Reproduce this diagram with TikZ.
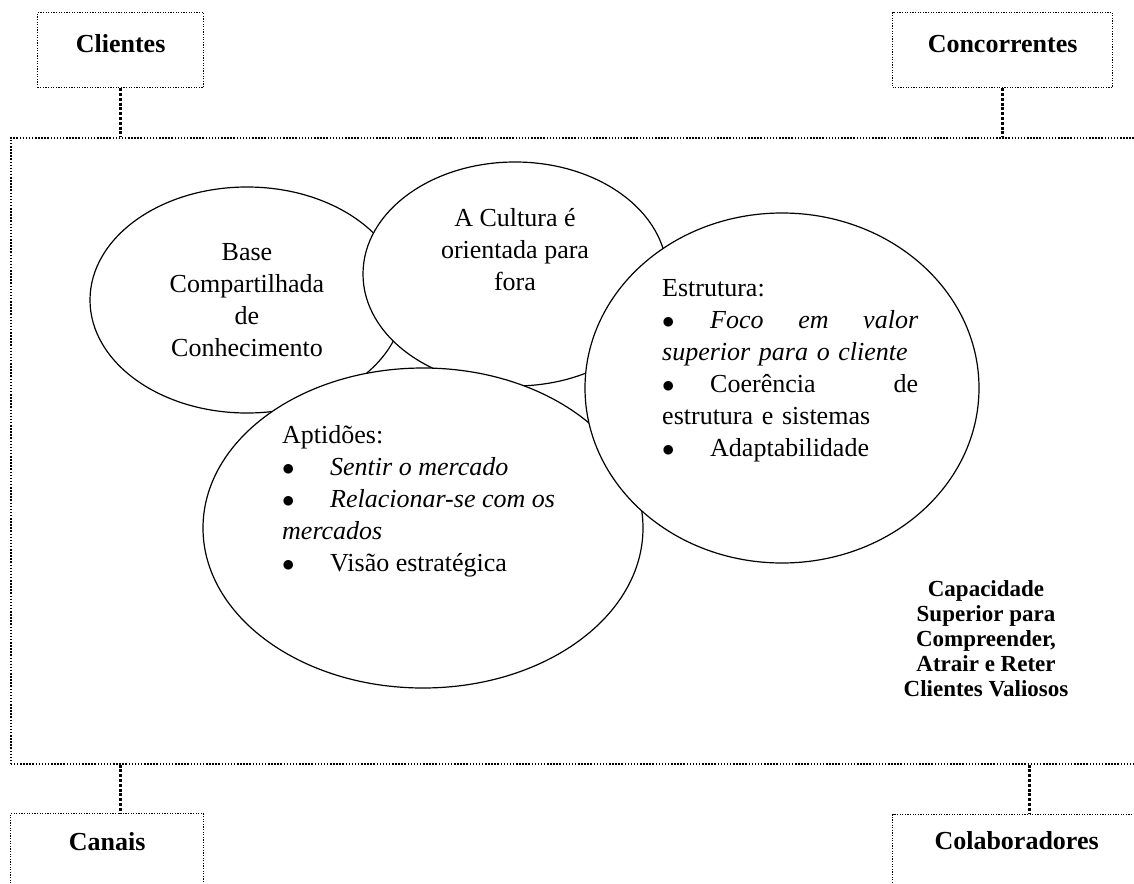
\documentclass[tikz,border=0pt]{standalone}
\usepackage{fontspec}
\setmainfont{Liberation Serif}
\usetikzlibrary{positioning, shapes.geometric}
\definecolor{ink}{HTML}{000000}
\tikzset{
  card/.style={draw=ink, line width=1.2pt, dash pattern=on 1.2pt off 1.4pt, inner sep=0pt,
               text depth=0pt, align=center, font=\fontsize{26}{32}\selectfont\bfseries, text=ink},
  frame/.style={draw=ink, line width=1.5pt, dash pattern=on 1.5pt off 1.6pt, inner sep=0pt},
  link/.style={draw=ink, line width=3pt, dash pattern=on 3pt off 1.8pt},
  oval/.style={ellipse, draw=ink, fill=white, line width=1.2pt, inner sep=0pt,
               align=center, font=\fontsize{26}{32}\selectfont, text=ink},
  body/.style={inner sep=0pt, font=\fontsize{26}{32}\selectfont, text=ink},
  bold/.style={inner sep=0pt, align=center, font=\fontsize{23}{25}\selectfont\bfseries, text=ink},
}
\newcommand{\bul}{\makebox[48pt][l]{$\bullet$}}

\begin{document}
\begin{tikzpicture}[x=1pt, y=-1pt]
  \useasboundingbox (0,0) rectangle (1134,883);
  \fill[white] (0,0) rectangle (1134,883);
  \clip (0,0) rectangle (1134,883);

  \node[card, anchor=north west, minimum width=166pt, minimum height=75pt, text height=40pt, text depth=35pt]
    (clientes) at (37,12) {Clientes};
  \node[card, anchor=north west, minimum width=220pt, minimum height=75pt, text height=40pt, text depth=35pt]
    (concorrentes) at (892,12) {Concorrentes};
  \node[frame, anchor=north west, minimum width=1160pt, minimum height=626pt] (frame) at (10,137) {};
  \node[card, anchor=north west, minimum width=193pt, text height=37pt, text depth=70pt]
    (canais) at (10,813) {Canais};
  \node[card, anchor=north west, minimum width=248pt, text height=35pt, text depth=70pt]
    (colaboradores) at (892,814) {Colaboradores};

  \draw[link] (clientes.south) -- (clientes.south |- frame.north);
  \draw[link] (concorrentes.south) -- (concorrentes.south |- frame.north);
  \draw[link] (frame.south -| clientes.south) -- (canais.north -| clientes.south);
  \draw[link] ([xshift=13pt]colaboradores.north |- frame.south) -- ([xshift=13pt]colaboradores.north);

  \node[oval, minimum width=314pt, minimum height=226pt] (base) at (247,300)
    {Base\\Compartilhada\\de\\Conhecimento};
  \node[oval, minimum width=304pt, minimum height=224pt] (cultura) at (515,274) {};
  \node[oval, minimum width=440pt, minimum height=320pt] (aptidoes) at (423,528) {};
  \node[oval, minimum width=394pt, minimum height=350pt] (estrutura) at (782,388) {};

  \node[body, align=center, anchor=north] (cultura-txt) at (515,208)
    {A Cultura é\\orientada para\\fora};
  \node[body, align=left, anchor=north west] (aptidoes-txt) at (282,425)
    {Aptidões:\\
     \bul\textit{Sentir o mercado}\\
     \bul\textit{Relacionar-se com os}\\
     \textit{mercados}\\
     \bul Visão estratégica};
  \node[body, align=left, text width=256pt, anchor=north west] (estrutura-txt) at (662,279)
    {Estrutura:\\
     \bul\textit{Foco}\hfill\textit{em}\hfill\textit{valor}\\
     \textit{superior para o cliente}\\
     \bul Coerência\hfill de\\
     estrutura e sistemas\\
     \bul Adaptabilidade};
  \node[bold, anchor=north] (capacidade) at (986,580)
    {Capacidade\\Superior para\\Compreender,\\Atrair e Reter\\Clientes Valiosos};
\end{tikzpicture}
\end{document}
